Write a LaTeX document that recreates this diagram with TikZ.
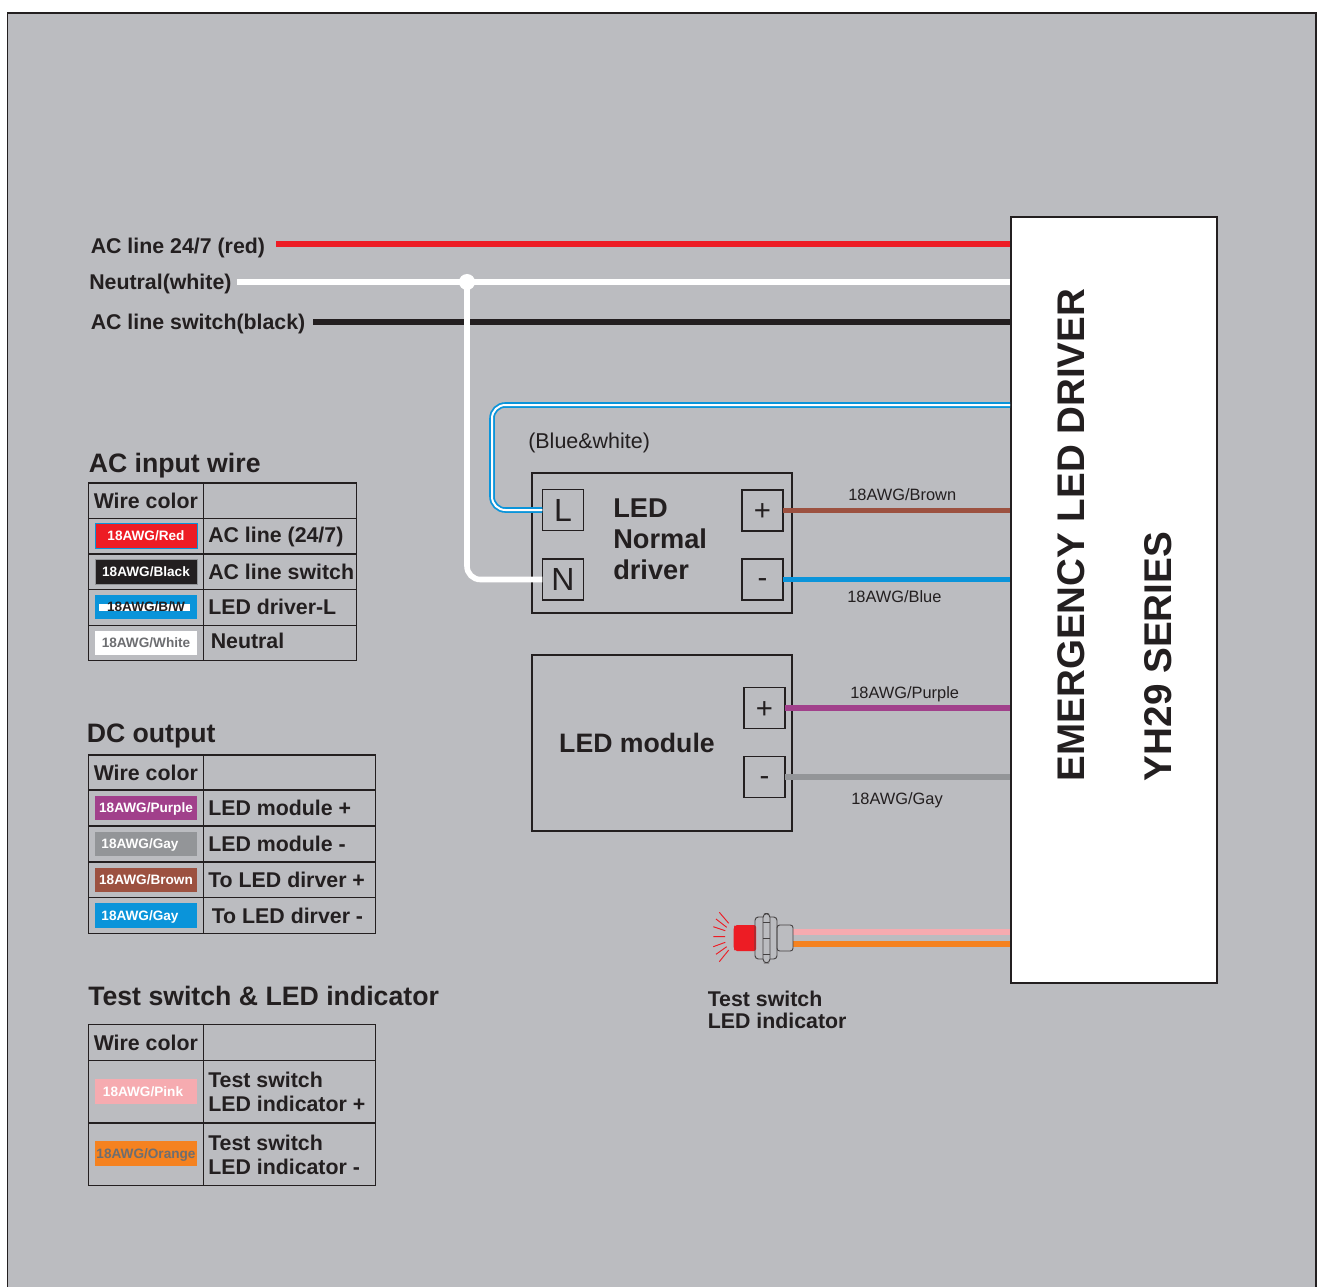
\documentclass[tikz,border=0pt]{standalone}
\usepackage{fontspec}
\setmainfont{Liberation Sans}
\definecolor{bg}{HTML}{BBBCC0}
\definecolor{ink}{HTML}{231F20}
\definecolor{wred}{HTML}{ED1C24}
\definecolor{wblue}{HTML}{0A94DA}
\definecolor{wbrown}{HTML}{9C5140}
\definecolor{wpurple}{HTML}{A1408B}
\definecolor{wgray}{HTML}{939598}
\definecolor{wpink}{HTML}{F6ABB0}
\definecolor{worange}{HTML}{F58220}
\definecolor{dimtext}{HTML}{6D6E71}
\tikzset{
  lbl/.style={inner sep=0pt,anchor=west,text=ink,font=\fontsize{#1}{#1}\selectfont\bfseries},
  lbl/.default=16,
  thin lbl/.style={inner sep=0pt,anchor=west,text=ink,font=\fontsize{12.3}{12.3}\selectfont},
  box/.style={draw=ink,line width=1.2pt,inner sep=0pt},
  port/.style={box,outer sep=0pt,minimum width=31pt,minimum height=31pt,text=ink,font=\fontsize{22}{22}\selectfont,text height=15pt,text depth=0pt},
  letter port/.style={port,font=\fontsize{24}{24}\selectfont,text height=17pt},
  minus port/.style={port,text height=12pt},
  tline/.style={draw=ink,line width=0.8pt},
  swatch/.style={fill=#1,inner sep=0pt,minimum width=76.5pt,minimum height=18.5pt,text height=7.3pt,text depth=0pt,font=\fontsize{10.2}{10.2}\selectfont\bfseries},
  wire/.style={line width=4.2pt,draw=#1},
}
\begin{document}
\begin{tikzpicture}[x=0.75pt,y=-0.75pt]
\useasboundingbox (0,0) rectangle (1320,1287);
\fill[white] (0,0) rectangle (1320,1287);
\fill[bg] (7.5,13) rectangle (1316,1290);
\draw[ink,line width=1.2pt] (7.5,1290) -- (7.5,13) -- (1316,13) -- (1316,1290);

% main box
\node[box,fill=white,minimum width=154.5pt,minimum height=574.5pt] (ed) at (1114,600) {};
\node[rotate=90,inner sep=0pt,text=ink,font=\fontsize{28.9}{28.9}\selectfont\bfseries] (edt) at (1071,535) {EMERGENCY LED DRIVER};
\node[rotate=90,inner sep=0pt,text=ink,font=\fontsize{29}{29}\selectfont\bfseries] (yh) at (1158,656.5) {YH29 SERIES};

% AC labels
\node[lbl] (acr) at (90.5,247.5) {AC line 24/7 (red)};
\node[lbl] (acn) at (89,283.5) {Neutral(white)};
\node[lbl] (acb) at (90.5,323.5) {AC line switch(black)};
\coordinate (rs) at (276,244);
\coordinate (ns) at (237,282);
\coordinate (bs) at (313,322);
\coordinate (jn) at (467,282);
\draw[wire=wred] (rs) -- (rs -| ed.west);
\draw[wire=ink] (bs) -- (bs -| ed.west);

% driver
\node[box,minimum width=195pt,minimum height=105pt] (drv) at (662,543) {};
\node[letter port] (L) at (563,510) {L};
\node[letter port] (N) at (563,579.5) {N};
\node[port] (dp) at (762.5,510.5) {+};
\node[minus port] (dm) at (762.5,579.5) {-};
\node[inner sep=0pt,anchor=north west,align=left,text=ink,font=\fontsize{20.4}{23.2}\selectfont\bfseries] (dt) at (613,498.5) {LED\\Normal\\driver};
\node[thin lbl,font=\fontsize{16.1}{16.1}\selectfont] (bw) at (528,443) {(Blue\&white)};

% neutral
\draw[wire=white] (ns) -- (ns -| ed.west);
\draw[white,line width=4.2pt,rounded corners=10pt] (jn) |- (N.west);
\fill[white] (jn) circle (8);
% blue-white
\coordinate (bwr) at (ed.west |- 0,405);
\draw[wblue,line width=4.2pt,rounded corners=10pt] (bwr) -- (492,405) -- (492,510) -- (L.west);
\draw[white,line width=1.5pt,rounded corners=10pt] (bwr) -- (492,405) -- (492,510) -- (L.west);

% driver output
\draw[wire=wbrown] (dp.east) -- (dp.east -| ed.west);
\draw[wire=wblue] (dm.east) -- (dm.east -| ed.west);
\node[thin lbl] (l1) at (848,495) {18AWG/Brown};
\node[thin lbl] (l2) at (847,597) {18AWG/Blue};

% LED module
\node[box,minimum width=195pt,minimum height=132pt] (mod) at (662,743) {};
\node[port] (mp) at (764.5,708) {+};
\node[minus port] (mm) at (764.5,777) {-};
\node[lbl=20,anchor=center] (mt) at (637,743) {LED module};
\draw[wire=wpurple] (mp.east) -- (mp.east -| ed.west);
\draw[wire=wgray] (mm.east) -- (mm.east -| ed.west);
\node[thin lbl] (l3) at (850,694.5) {18AWG/Purple};
\node[thin lbl] (l4) at (851,800.5) {18AWG/Gay};

% AC input table
\node[lbl=20] (t1) at (88.5,466) {AC input wire};
\draw[tline] (88.5,483) rectangle (356.5,660.5);
\foreach \yy in {518.5,554,589.5,625.5} \draw[tline] (88.5,\yy) -- (356.5,\yy);
\draw[tline] (203.5,483) -- (203.5,660.5);
\node[lbl] (a0) at (93.5,501) {Wire color};
\node[swatch=wred,draw=wblue,line width=0.5pt,text=white] (a1s) at (146,536) {18AWG/Red};
\node[swatch=ink,draw=wgray,line width=0.5pt,text=white] (a2s) at (146,571.5) {18AWG/Black};
\node[swatch=wblue] (a3s) at (146,607) {};
\fill[white] (99,604) rectangle (190,611);
\node[inner sep=0pt,text=ink,text height=7.3pt,text depth=0pt,font=\fontsize{10.2}{10.2}\selectfont\bfseries] (a3t) at (146,607) {18AWG/B/W};
\node[swatch=white,text=dimtext] (a4s) at (146,643) {18AWG/White};
\node[lbl] (a1) at (208,537) {AC line (24/7)};
\node[lbl] (a2) at (208,572) {AC line switch};
\node[lbl] (a3) at (208,607) {LED driver-L};
\node[lbl] (a4) at (210.5,641) {Neutral};

% DC output table
\node[lbl=20] (t2) at (86.5,736) {DC output};
\draw[tline] (88.5,755) rectangle (375.5,933.5);
\foreach \yy in {790,826,862,897.5} \draw[tline] (88.5,\yy) -- (375.5,\yy);
\draw[tline] (203.5,755) -- (203.5,933.5);
\node[lbl] (d0) at (93.5,773) {Wire color};
\node[swatch=wpurple,text=white] (d1s) at (146,808) {18AWG/Purple};
\node[swatch=wgray,text=white] (d2s) at (146,844) {\hspace*{-9pt}18AWG/Gay};
\node[swatch=wbrown,text=white] (d3s) at (146,880) {18AWG/Brown};
\node[swatch=wblue,text=white] (d4s) at (146,915.5) {\hspace*{-9pt}18AWG/Gay};
\node[lbl] (d1) at (208,808) {LED module +};
\node[lbl] (d2) at (208,844) {LED module -};
\node[lbl] (d3) at (208,880) {To LED dirver +};
\node[lbl] (d4) at (211.5,916) {To LED dirver -};

% Test table
\node[lbl=20] (t3) at (88,996) {Test switch \& LED indicator};
\draw[tline] (88.5,1024.5) rectangle (375.5,1185.5);
\foreach \yy in {1060.5,1123} \draw[tline] (88.5,\yy) -- (375.5,\yy);
\draw[tline] (203.5,1024.5) -- (203.5,1185.5);
\node[lbl] (s0) at (93.5,1043) {Wire color};
\node[swatch=wpink,text=white] (s1s) at (146,1091.5) {\hspace*{-4.5pt}18AWG/Pink};
\node[swatch=worange,text=dimtext] (s2s) at (146,1153.5) {18AWG/Orange};
\node[lbl,align=left] (s1) at (208,1092) {Test switch\\[1.8pt]LED indicator +};
\node[lbl,align=left] (s2) at (208,1155) {Test switch\\[1.8pt]LED indicator -};

% test switch
\node[lbl,align=left] (sw) at (707.5,1010) {Test switch\\[0.8pt]LED indicator};
\coordinate (swp) at (793,932);
\coordinate (swo) at (793,944);
\draw[line width=4.5pt,draw=wpink] (swp) -- (swp -| ed.west);
\draw[line width=4.5pt,draw=worange] (swo) -- (swo -| ed.west);
\fill[wred,rounded corners=1.5pt] (756,951) -- (735,951) -- (733.7,949) -- (733.7,927) -- (735,925) -- (756,925) -- cycle;
\draw[ink!85,line width=0.7pt,rounded corners=2pt] (777,925) rectangle (793,951);
\draw[ink!85,line width=0.7pt,rounded corners=2.5pt] (755,917) rectangle (777,959);
\draw[ink!85,line width=0.7pt,rounded corners=3pt,fill=bg] (763,913.5) rectangle (770,963);
\draw[ink!85,line width=0.7pt] (763,922) -- (770,922) (763,938) -- (770,938) (763,954) -- (770,954);
\draw[wred,line width=0.7pt]
  (728.7,923.3) -- (719.3,912.3)
  (726.7,927.3) -- (716,919)
  (725.3,930.7) -- (713.3,926.7)
  (725,936.7) -- (713.3,936.7)
  (725.3,942.3) -- (713.3,946.7)
  (726.7,946.7) -- (716,954.3)
  (728.7,950) -- (719.3,961.7);
\end{tikzpicture}
\end{document}
